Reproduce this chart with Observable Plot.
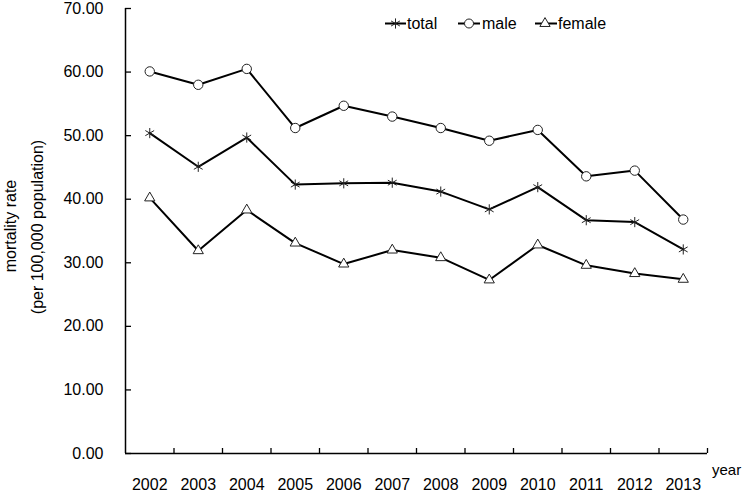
<!DOCTYPE html>
<html>
<head>
<meta charset="utf-8">
<script src="https://cdn.jsdelivr.net/npm/d3@7"></script>
<script src="https://cdn.jsdelivr.net/npm/@observablehq/plot@0.6"></script>
<style>
  html, body { margin: 0; padding: 0; background: #fff; }
  #chart { width: 747px; height: 492px; }
  svg { font-family: "Liberation Sans", Arial, sans-serif; }
</style>
</head>
<body>
<div id="chart"></div>
<script>
const years = [2002, 2003, 2004, 2005, 2006, 2007, 2008, 2009, 2010, 2011, 2012, 2013];
const total = [50.4, 45.1, 49.7, 42.3, 42.5, 42.6, 41.2, 38.4, 41.9, 36.7, 36.4, 32.1];
const male = [60.1, 58.0, 60.5, 51.2, 54.7, 53.0, 51.2, 49.2, 50.9, 43.6, 44.5, 36.8];
const female = [40.2, 31.9, 38.3, 33.1, 29.8, 32.0, 30.8, 27.3, 32.8, 29.6, 28.3, 27.4];
const yTicks = [0, 10, 20, 30, 40, 50, 60, 70];
const seriesNames = ["total", "male", "female"];
const yTitle = ["mortality rate", "(per 100,000 population)"];
const xTitle = "year";

const rows = (vals) => years.map((yr, i) => ({year: yr, value: vals[i]}));
const dTotal = rows(total), dMale = rows(male), dFemale = rows(female);
const xMin = years[0] - 0.5, xMax = years[years.length - 1] + 0.5;
const bounds = years.map(y => y + 0.5);

const FONT = "Liberation Sans, Arial, sans-serif";

const plot = Plot.plot({
  width: 747,
  height: 492,
  marginLeft: 125,
  marginRight: 40,
  marginTop: 8,
  marginBottom: 39,
  style: {fontFamily: FONT, fontSize: "16px", color: "#000", background: "#fff"},
  x: {domain: [xMin, xMax], label: null},
  y: {domain: [0, 70], label: null},
  marks: [
    Plot.axisY({ticks: yTicks, tickSize: 0, tickPadding: 22, tickFormat: d3.format(".2f"), fontSize: 16}),
    Plot.axisX({ticks: years, tickSize: 0, tickPadding: 25, tickFormat: d => String(d), fontSize: 16}),
    Plot.ruleY(yTicks, {y: d => d, x1: xMin, x2: xMin, insetLeft: 6, stroke: "#000", strokeWidth: 1.3}),
    Plot.ruleX(bounds, {x: d => d, y1: 0, y2: 0, insetBottom: 5, stroke: "#000", strokeWidth: 1.3}),
    Plot.ruleX([xMin], {y1: 0, y2: 70, stroke: "#000", strokeWidth: 1.5}),
    Plot.ruleY([0], {x1: xMin, x2: xMax, stroke: "#000", strokeWidth: 1.5}),
    Plot.line(dMale, {x: "year", y: "value", stroke: "#000", strokeWidth: 2}),
    Plot.line(dTotal, {x: "year", y: "value", stroke: "#000", strokeWidth: 2}),
    Plot.line(dFemale, {x: "year", y: "value", stroke: "#000", strokeWidth: 2}),
    Plot.dot(dMale, {x: "year", y: "value", symbol: "circle", r: 4.7, fill: "#fff", stroke: "#222", strokeWidth: 1}),
    Plot.dot(dTotal, {x: "year", y: "value", symbol: "asterisk", r: 4.8, stroke: "#222", strokeWidth: 1}),
    Plot.dot(dFemale, {x: "year", y: "value", symbol: "triangle", r: 3.8, fill: "#fff", stroke: "#222", strokeWidth: 1})
  ]
});

document.getElementById("chart").appendChild(plot);

const svg = d3.select(plot);

// Y-axis title (two lines, rotated)
const yt = svg.append("g").attr("font-size", 16).attr("fill", "#000").attr("text-anchor", "middle");
yt.append("text").attr("transform", "translate(16,226) rotate(-90)").text(yTitle[0]);
yt.append("text").attr("transform", "translate(43,227) rotate(-90)").text(yTitle[1]);

// x title
svg.append("text").attr("x", 712).attr("y", 475).attr("font-size", 15).attr("fill", "#000")
  .attr("text-anchor", "start").text(xTitle);

// Legend
const legend = svg.append("g").attr("font-size", 16).attr("fill", "#000").attr("text-anchor", "start");
const legendItems = [
  {name: seriesNames[0], x0: 385, x1: 406, cx: 395.5, sym: d3.symbolAsterisk, size: Math.PI * 4.8 * 4.8, fill: "none", tx: 407},
  {name: seriesNames[1], x0: 458, x1: 480, cx: 469, sym: d3.symbolCircle, size: Math.PI * 4.5 * 4.5, fill: "#fff", tx: 482},
  {name: seriesNames[2], x0: 535, x1: 557, cx: 545, sym: d3.symbolTriangle, size: Math.PI * 3.8 * 3.8, fill: "#fff", tx: 558}
];
const ly = 23.5;
for (const it of legendItems) {
  legend.append("line").attr("x1", it.x0).attr("x2", it.x1).attr("y1", ly).attr("y2", ly).attr("stroke", "#000").attr("stroke-width", 2);
  legend.append("path").attr("d", d3.symbol(it.sym, it.size)()).attr("transform", `translate(${it.cx},${ly})`)
    .attr("fill", it.fill).attr("stroke", "#222").attr("stroke-width", 1);
  legend.append("text").attr("x", it.tx).attr("y", ly).attr("dy", "0.35em").attr("text-anchor", "start").text(it.name);
}
</script>
</body>
</html>
